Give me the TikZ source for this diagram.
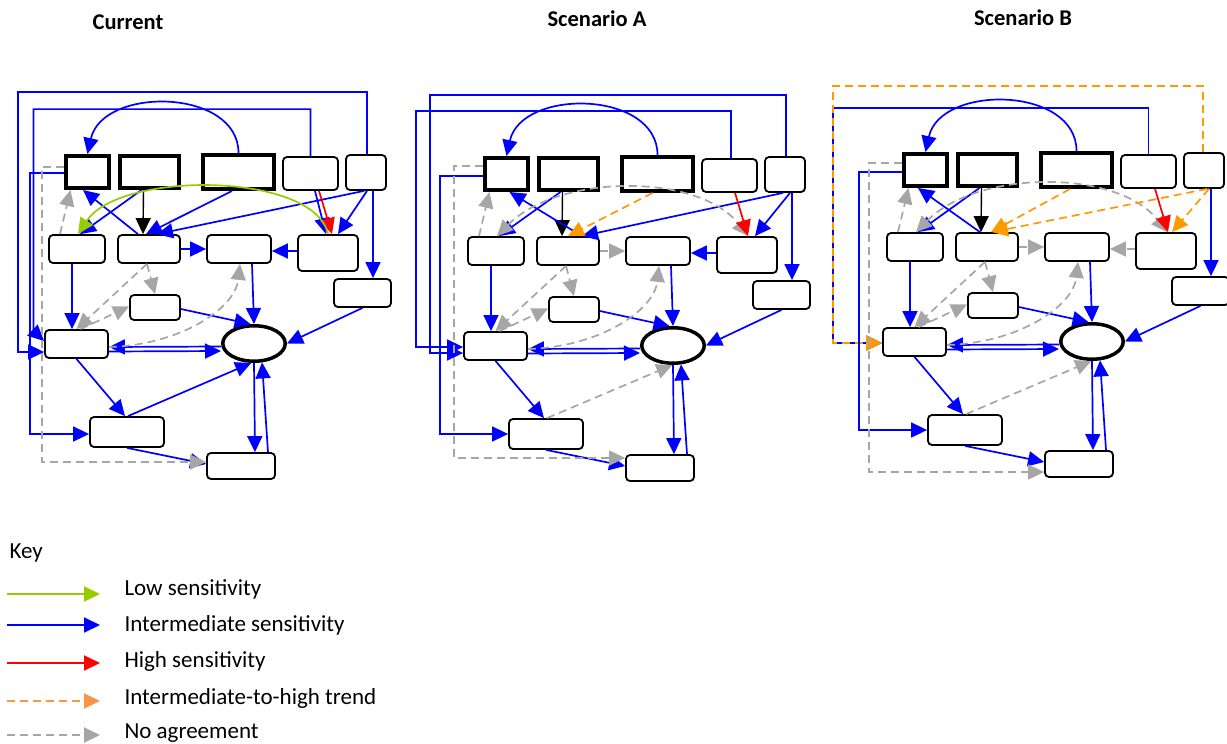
\documentclass[tikz,border=0pt]{standalone}
\usepackage{fontspec}
\setmainfont{Carlito}
\usetikzlibrary{arrows.meta,shapes.geometric}

\definecolor{lowgreen}{HTML}{99CC00}
\definecolor{midblue}{HTML}{0000FF}
\definecolor{highred}{HTML}{FF0000}
\definecolor{trendorange}{HTML}{FF9900}
\definecolor{keyorange}{HTML}{F79646}
\definecolor{nogray}{HTML}{A6A6A6}

\tikzset{
  >={Triangle[length=16pt,width=15pt]},
  arrowline/.style={line width=1.7pt, ->},
  lowsens/.style={arrowline, lowgreen},
  midsens/.style={arrowline, midblue},
  highsens/.style={arrowline, highred},
  trend/.style={arrowline, trendorange, dash pattern=on 8pt off 5pt},
  noagree/.style={arrowline, nogray, dash pattern=on 8pt off 5pt},
  blackarrow/.style={arrowline, black, line width=1.4pt},
  roundbox/.style={draw, rounded corners=4pt, line width=1.8pt, inner sep=0pt},
  heavybox/.style={draw, line width=4pt, inner sep=0pt},
  oval/.style={draw, ellipse, line width=3.5pt, inner sep=0pt},
  heading/.style={font=\fontsize{22.5}{27}\selectfont\bfseries, anchor=base},
  keytext/.style={font=\fontsize{23}{28}\selectfont, anchor=base west},
}

% the fifteen boxes of one panel, named <prefix>-1 ... <prefix>-15
\newcommand{\panelboxes}[1]{%
  \node[heavybox, minimum width=43pt, minimum height=32pt] (#1-1) at (87.5,172) {};
  \node[heavybox, minimum width=59pt, minimum height=32pt] (#1-2) at (149.5,172) {};
  \node[heavybox, minimum width=71pt, minimum height=34pt] (#1-3) at (238.5,172) {};
  \node[roundbox, minimum width=55pt, minimum height=33pt] (#1-4) at (310.5,173.5) {};
  \node[roundbox, minimum width=40pt, minimum height=35pt] (#1-5) at (366,172.5) {};
  \node[roundbox, minimum width=56pt, minimum height=28pt] (#1-6) at (77,249) {};
  \node[roundbox, minimum width=62pt, minimum height=28pt] (#1-7) at (149,249) {};
  \node[roundbox, minimum width=64pt, minimum height=28pt] (#1-8) at (239,249) {};
  \node[roundbox, minimum width=60pt, minimum height=36pt] (#1-9) at (328,253) {};
  \node[roundbox, minimum width=57pt, minimum height=28pt] (#1-10) at (362.5,293) {};
  \node[roundbox, minimum width=50pt, minimum height=25pt] (#1-11) at (155,307.5) {};
  \node[roundbox, minimum width=63pt, minimum height=28pt] (#1-12) at (76.5,344) {};
  \node[oval, minimum width=62.5pt, minimum height=35.5pt] (#1-13) at (254,343.5) {};
  \node[roundbox, minimum width=74pt, minimum height=30pt] (#1-14) at (127,432) {};
  \node[roundbox, minimum width=68pt, minimum height=26pt] (#1-15) at (241,466) {};
}

% links that every panel has
\newcommand{\commonlinks}[1]{%
  \draw[midsens] (#1-3.north) .. controls +(0,-65) and +(15,-68) .. (#1-1.north);
  \draw[blackarrow] ([xshift=-6pt]#1-2.south) -- ([xshift=-6pt]#1-7.north);
  \draw[midsens] ([xshift=-8pt]#1-2.south) -- ([xshift=3pt]#1-6.north);
  \draw[noagree] ([xshift=-17pt]#1-6.north) -- ([xshift=-17pt]#1-1.south);
  \draw[midsens] ([xshift=7pt]#1-5.south) -- ([xshift=10.5pt]#1-10.north);
  \draw[midsens] ([xshift=-5pt]#1-6.south) -- ([xshift=-4.5pt]#1-12.north);
  \draw[midsens] ([xshift=13pt]#1-8.south) -- (#1-13.north);
  \draw[midsens] ([yshift=-1.5pt]#1-11.east) -- (#1-13.100);
  \draw[midsens] (#1-10.south) -- (#1-13.east);
  \draw[midsens] ([yshift=-3pt]#1-13.west) -- ([yshift=-3pt]#1-12.east);
  \draw[midsens] ([yshift=-7.5pt]#1-12.east) -- ([yshift=-7.5pt]#1-13.west);
  \draw[midsens] (#1-12.south) -- ([xshift=-2pt]#1-14.north);
  \draw[midsens] (#1-13.south) -- ([xshift=14pt]#1-15.north);
  \draw[midsens] ([xshift=27pt]#1-15.north) -- (#1-13.293);
  \draw[midsens] (#1-14.south) -- ([yshift=2pt]#1-15.west);
  \draw[noagree] ([xshift=-2pt]#1-7.south) -- (#1-11.north);
  \draw[noagree] ([xshift=-2pt]#1-7.south) -- (#1-12.north);
  \draw[noagree] ([xshift=4pt]#1-12.north) -- ([yshift=1pt]#1-11.west);
  \draw[noagree] ([yshift=-3pt]#1-12.east) .. controls +(71,-2) and +(-5,45) .. ([xshift=1pt]#1-8.south);
}

\begin{document}
\begin{tikzpicture}[x=1pt, y=-1pt]
  \useasboundingbox (0,0) rectangle (1227,744);

  \node[heading] (cur) at (128,29) {Current};
  \node[heading] (scena) at (597,27) {Scenario A};
  \node[heading] (scenb) at (1023,25) {Scenario B};

  % current
  \begin{scope}
    \panelboxes{c}
    \commonlinks{c}
    \draw[midsens] ([xshift=1pt]c-5.north) -- ++(0,-62) -- ++(-349,0) |- ([yshift=-8pt]c-12.west);
    \draw[midsens] (c-4.north) -- ++(0,-47) -- ++(-277,0) -- ++(0,222) -- ([yshift=3pt]c-12.west);
    \draw[midsens] ([yshift=-1pt]c-1.west) -- ++(-34,0) |- ([yshift=-2pt]c-14.west);
    \draw[noagree] ([yshift=5pt]c-1.west) -- ++(-22,0) |- ([yshift=4pt]c-15.west);
    \draw[midsens] ([xshift=-11pt]c-7.north) -- ([xshift=-4.5pt]c-1.south);
    \draw[midsens] ([xshift=-6.5pt]c-3.south) -- ([xshift=-3pt]c-7.north);
    \draw[midsens] ([xshift=-2pt]c-5.south) -- ([xshift=8pt]c-7.north);
    \draw[midsens] ([xshift=4.5pt]c-4.south) -- ([xshift=-2pt]c-9.north);
    \draw[highsens] ([xshift=8.5pt]c-4.south) -- ([xshift=4pt]c-9.north);
    \draw[midsens] ([xshift=1pt]c-5.south) -- ([xshift=10pt]c-9.north);
    \draw[lowsens] (c-9.north) .. controls +(-13,-62) and +(42,-64) .. ([xshift=1pt]c-6.north);
    \draw[midsens] (c-7.east) -- (c-8.west);
    \draw[midsens] ([yshift=2pt]c-9.west) -- ([yshift=-2pt]c-8.east);
    \draw[midsens] ([xshift=1pt]c-14.north) -- (c-13.262);
  \end{scope}

  % scenario A
  \begin{scope}[shift={(419,2)}]
    \panelboxes{a}
    \commonlinks{a}
    \draw[midsens] ([xshift=1pt]a-5.north) -- ++(0,-61) -- ++(-356,0) |- ([yshift=-7pt]a-12.west);
    \draw[midsens] ([xshift=1.5pt]a-4.north) -- ++(0,-47) -- ++(-315,0) |- ([yshift=-1pt]a-12.west);
    \draw[midsens] ([yshift=-2pt]a-1.west) -- ++(-43,0) |- (a-14.west);
    \draw[noagree] ([yshift=8pt]a-1.west) -- ++(-29,0) |- ([yshift=10pt]a-15.west);
    \draw[midsens] ([xshift=14pt]a-7.north) -- ([xshift=3pt]a-1.south);
    \draw[midsens] ([xshift=-2pt]a-5.south) -- ([xshift=14pt]a-7.north);
    \draw[trend] ([xshift=-5pt]a-3.south) -- (a-7.north);
    \draw[noagree, <->] ([xshift=1pt]a-6.north) .. controls +(62,-63) and +(-49,-63) .. ([xshift=1pt]a-9.north);
    \draw[highsens] ([xshift=5.5pt]a-4.south) -- ([xshift=1pt]a-9.north);
    \draw[midsens] ([xshift=5pt]a-5.south) -- ([xshift=8pt]a-9.north);
    \draw[noagree] (a-7.east) -- (a-8.west);
    \draw[midsens] ([yshift=2pt]a-9.west) -- ([yshift=-2pt]a-8.east);
    \draw[noagree] ([xshift=1pt]a-14.north) -- (a-13.268);
  \end{scope}

  % scenario B
  \begin{scope}[shift={(838,-2)}]
    \panelboxes{b}
    \commonlinks{b}
    \draw[midsens] (b-4.north) -- ++(0,-46) -- ++(-315.5,0) |- ([yshift=-1pt]b-12.west);
    \draw[trend] ([xshift=-1pt]b-5.north) -- ++(0,-66) -- ++(-370,0) |- ([yshift=-1pt]b-12.west);
    \draw[midsens] ([yshift=-2pt]b-1.west) -- ++(-43,0) |- (b-14.west);
    \draw[noagree] ([yshift=7pt]b-1.west) -- ++(-33,0) |- ([yshift=-8pt]b-15.west);
    \draw[midsens] ([xshift=-7pt]b-7.north) -- ([xshift=-7.5pt]b-1.south);
    \draw[noagree, <->] ([xshift=1pt]b-6.north) .. controls +(62,-63) and +(-49,-63) .. ([xshift=1pt]b-9.north);
    \draw[trend] ([xshift=-6.5pt]b-3.south) -- ([xshift=4pt]b-7.north);
    \draw[trend] ([xshift=3pt]b-5.south) -- ([xshift=5pt]b-7.north);
    \draw[highsens] ([xshift=6.5pt]b-4.south) -- ([xshift=2pt]b-9.north);
    \draw[trend] ([xshift=5pt]b-5.south) -- ([xshift=6pt]b-9.north);
    \draw[noagree] (b-7.east) -- (b-8.west);
    \draw[noagree] ([yshift=2pt]b-9.west) -- ([yshift=-2pt]b-8.east);
    \draw[noagree] ([xshift=1pt]b-14.north) -- (b-13.268);
  \end{scope}

  % key
  \node[keytext] (keyhead) at (6,558) {Key};
  \node[keytext] (lowtxt) at (121,595) {Low sensitivity};
  \node[keytext] (midtxt) at (121,631) {Intermediate sensitivity};
  \node[keytext] (hightxt) at (121,667) {High sensitivity};
  \node[keytext] (trendtxt) at (121,704) {Intermediate-to-high trend};
  \node[keytext] (notxt) at (121,738) {No agreement};

  \coordinate (k1) at (7,594);
  \coordinate (k2) at (7,625);
  \coordinate (k3) at (7,663);
  \coordinate (k4) at (7,701);
  \coordinate (k5) at (7,735);
  \draw[lowsens, line width=2pt] (k1) -- ++(93,0);
  \draw[midsens, line width=2pt] (k2) -- ++(93,0);
  \draw[highsens, line width=2pt] (k3) -- ++(93,0);
  \draw[trend, keyorange, line width=2pt] (k4) -- ++(93,0);
  \draw[noagree, line width=2pt] (k5) -- ++(93,0);
\end{tikzpicture}
\end{document}
